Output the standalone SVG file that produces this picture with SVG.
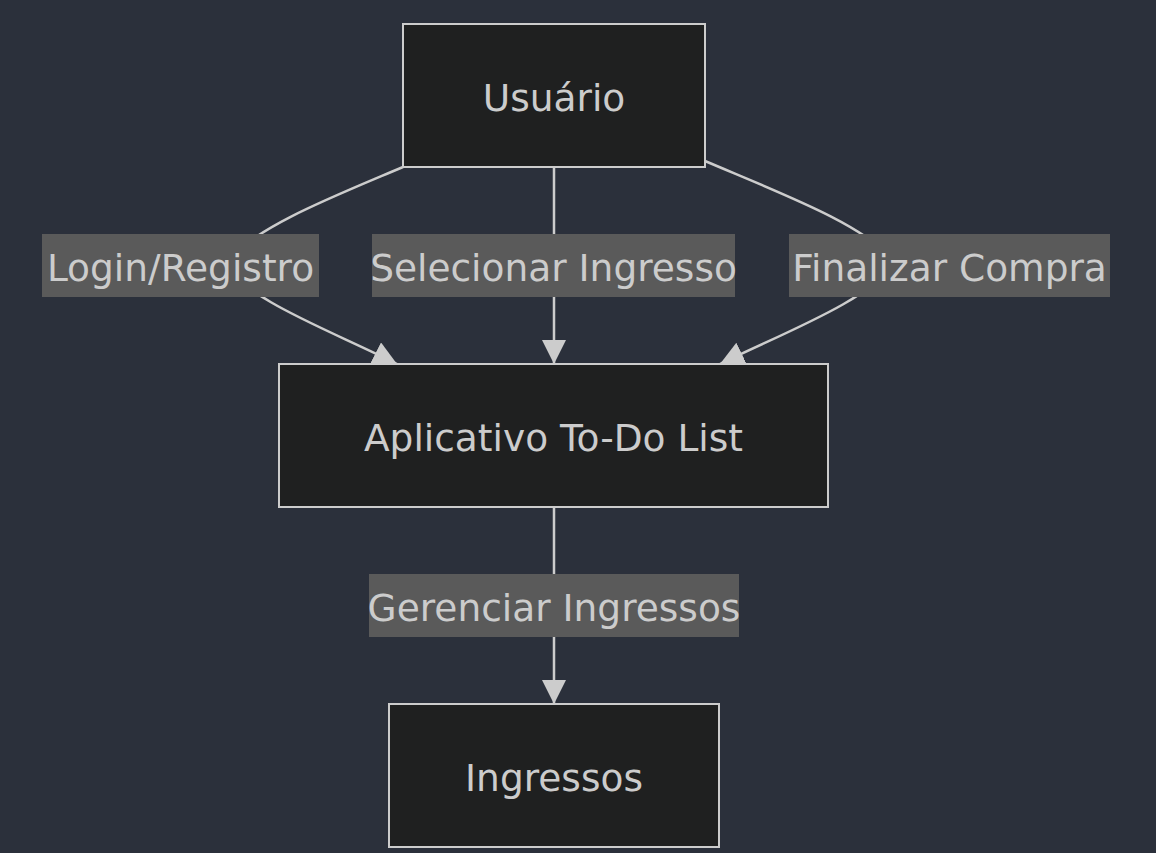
<svg xmlns="http://www.w3.org/2000/svg" width="1156" height="853" viewBox="0 0 1156 853">
<defs>
<style>
.node rect{fill:#1f2020;stroke:#cccccc;stroke-width:2}
.node text,.label text{font-family:"DejaVu Sans","Open Sans",sans-serif;font-size:37.5px;fill:#cccccc;text-anchor:middle;dominant-baseline:central}
.edge{fill:none;stroke:#cccccc;stroke-width:2.5}
.label rect{fill:#5a5a5a}
</style>
<marker id="ah" viewBox="0 0 10 10" refX="10" refY="5" markerWidth="24" markerHeight="24" markerUnits="userSpaceOnUse" orient="auto">
<path d="M0,0 L10,5 L0,10 z" fill="#cccccc"/>
</marker>
</defs>
<rect width="1156" height="853" fill="#2b303b"/>
<g id="connectors">
<path class="edge" d="M403,167 C330,198 260,225 225,262 C245,300 330,330 397,364" marker-end="url(#ah)"/>
<path class="edge" d="M554,167 L554,364" marker-end="url(#ah)"/>
<path class="edge" d="M705,161 C785,195 865,225 895,262 C870,300 790,330 720,364" marker-end="url(#ah)"/>
<path class="edge" d="M554,507 L554,704" marker-end="url(#ah)"/>
</g>
<g id="edge-labels">
<g class="label" id="lbl-login"><rect x="42" y="234" width="277" height="63"/><text x="180.5" y="268">Login/Registro</text></g>
<g class="label" id="lbl-selecionar"><rect x="372" y="234" width="363" height="63"/><text x="553.5" y="268">Selecionar Ingresso</text></g>
<g class="label" id="lbl-finalizar"><rect x="789" y="234" width="321" height="63"/><text x="949.5" y="268">Finalizar Compra</text></g>
<g class="label" id="lbl-gerenciar"><rect x="369" y="574" width="370" height="63"/><text x="554" y="608">Gerenciar Ingressos</text></g>
</g>
<g class="node" id="usuario"><rect x="403" y="24" width="302" height="143"/><text x="554" y="98">Usuário</text></g>
<g class="node" id="app"><rect x="279" y="364" width="549" height="143"/><text x="553.5" y="438">Aplicativo To-Do List</text></g>
<g class="node" id="ingressos"><rect x="389" y="704" width="330" height="143"/><text x="554" y="778">Ingressos</text></g>
</svg>
